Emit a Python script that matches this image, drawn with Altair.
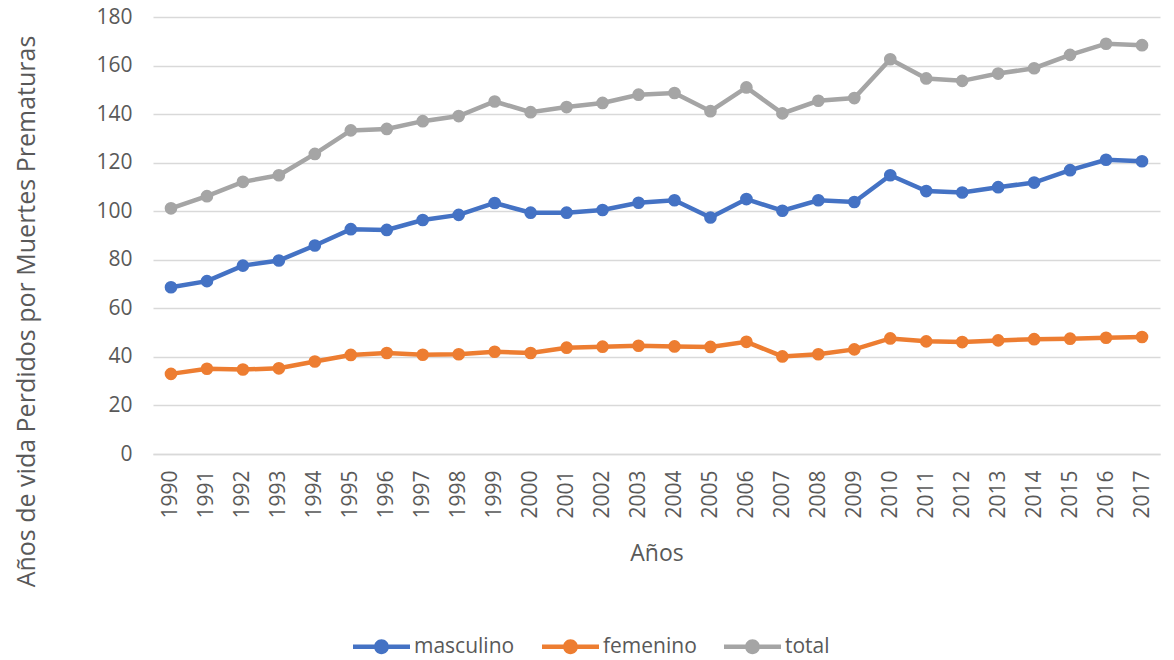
import altair as alt
import pandas as pd

years = [str(y) for y in range(1990, 2018)]
masculino = [68.7, 71.2, 77.6, 79.7, 85.9, 92.6, 92.3, 96.4, 98.5, 103.4,
             99.4, 99.4, 100.5, 103.5, 104.5, 97.4, 105.0, 100.2, 104.5, 103.8,
             114.8, 108.3, 107.7, 109.9, 111.8, 116.9, 121.2, 120.6]
femenino = [33.0, 35.1, 34.8, 35.3, 38.1, 40.8, 41.6, 40.9, 41.1, 42.1,
            41.6, 43.8, 44.2, 44.6, 44.3, 44.1, 46.2, 40.2, 41.1, 43.1,
            47.6, 46.4, 46.1, 46.8, 47.3, 47.5, 47.9, 48.2]
total = [101.2, 106.2, 112.1, 114.8, 123.6, 133.3, 133.9, 137.1, 139.2, 145.2,
         140.8, 142.9, 144.6, 148.0, 148.7, 141.2, 151.0, 140.3, 145.5, 146.6,
         162.6, 154.7, 153.7, 156.7, 158.9, 164.4, 169.0, 168.4]

series_names = ["masculino", "femenino", "total"]
series_colors = ["#4472C4", "#ED7D31", "#A5A5A5"]

rows = []
for name, vals in zip(series_names, [masculino, femenino, total]):
    for y, v in zip(years, vals):
        rows.append({"year": y, "value": v, "serie": name})
df = pd.DataFrame(rows)

FONT = "Open Sans"
TXT = "#595959"
GRID = "#D9D9D9"

legend_path = ("M-1,-0.08L1,-0.08L1,0.08L-1,0.08Z "
               "M0.26,0A0.26,0.26,0,1,1,-0.26,0A0.26,0.26,0,1,1,0.26,0Z")

x_enc = alt.X("year:O",
              scale=alt.Scale(type="point", padding=0.5),
              axis=alt.Axis(title="Años", labelAngle=-90, labelPadding=16,
                            ticks=False, domainColor=GRID, domainWidth=1.3,
                            labelFontSize=21, titleFontSize=23, titleFontWeight="normal",
                            titleY=99, titleBaseline="middle",
                            labelColor=TXT, titleColor=TXT, labelFont=FONT, titleFont=FONT))
y_enc = alt.Y("value:Q",
              scale=alt.Scale(domain=[0, 180], nice=False),
              axis=alt.Axis(title="Años de vida Perdidos por Muertes Prematuras",
                            values=list(range(0, 181, 20)), ticks=False, domain=False,
                            gridColor=GRID, gridWidth=1.3, labelPadding=21,
                            labelFontSize=21, titleFontSize=25, titleFontWeight="normal",
                            titleX=-127, titleY=294, titleBaseline="middle",
                            labelColor=TXT, titleColor=TXT, labelFont=FONT, titleFont=FONT))
color_enc = alt.Color("serie:N",
                      scale=alt.Scale(domain=series_names, range=series_colors),
                      legend=alt.Legend(title=None, orient="none", direction="horizontal",
                                        legendX=200, legendY=601, padding=0,
                                        symbolType=legend_path, symbolSize=3249,
                                        symbolStrokeWidth=0, symbolOpacity=1,
                                        labelOffset=4, columnPadding=27,
                                        labelFontSize=21, labelFont=FONT, labelColor=TXT))

base = alt.Chart(df)
lines = base.mark_line(strokeWidth=4.5).encode(x=x_enc, y=y_enc, color=color_enc)
points = base.mark_point(filled=True, size=160, opacity=1).encode(x=x_enc, y=y_enc, color=color_enc)

chart = alt.layer(lines, points).properties(
    width=1007, height=437,
    autosize=alt.AutoSizeParams(type="none"),
    padding={"left": 145, "top": 9, "right": 6, "bottom": 208},
).configure_view(stroke=None)

chart.save("out.html", embed_options={"renderer": "svg", "actions": False})
